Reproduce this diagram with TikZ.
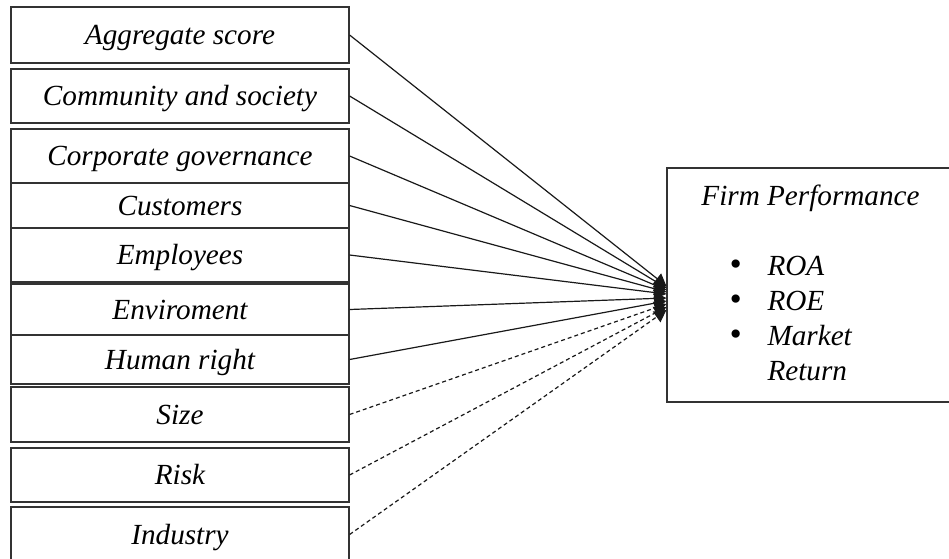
\documentclass[tikz,border=0pt]{standalone}
\usepackage{fontspec}
\setmainfont{Liberation Serif}
\usetikzlibrary{arrows.meta}

\begin{document}
\begin{tikzpicture}[x=0.5pt, y=-0.5pt, >={Triangle[length=6pt,width=6.5pt]},
    factor/.style={draw=black!80, line width=0.6pt, minimum width=169pt, inner sep=0pt,
        text height=11pt, text depth=1.5pt, font=\fontsize{14.6}{17}\selectfont\itshape},
    link/.style={->, draw=black!90, line width=0.6pt},
    control/.style={link, dashed, dash pattern=on 2pt off 1.5pt}]
    \useasboundingbox (0,0) rectangle (949,558);
    % explanatory variables
    \node[factor, minimum height=28pt] (agg) at (180,35) {Aggregate score};
    \node[factor, minimum height=27pt] (com) at (180,96) {Community and society};
    \node[factor, minimum height=27pt] (cor) at (180,156) {Corporate governance};
    \node[factor, minimum height=22.5pt] (cus) at (180,205.5) {Customers};
    \node[factor, minimum height=27pt] (emp) at (180,255) {Employees};
    \node[factor, minimum height=25.5pt] (env) at (180,309.5) {Enviroment};
    \node[factor, minimum height=24.5pt] (hum) at (180,359.5) {Human right};
    \node[factor, minimum height=27.5pt] (size) at (180,414.5) {Size};
    \node[factor, minimum height=27pt] (risk) at (180,475) {Risk};
    \node[factor, minimum height=27.5pt] (ind) at (180,534.5) {Industry};
    % dependent variable
    \node[draw=black!80, line width=0.6pt, minimum width=146.5pt, minimum height=117pt] (perf) at (813.5,285) {};
    \node[font=\fontsize{14.6}{17}\selectfont\itshape] (title) at (810.5,198) {Firm Performance};
    \node[anchor=north west, inner sep=0pt, font=\fontsize{14.6}{17.5}\selectfont\itshape] (kpi) at (729,251)
        {\begin{tabular}{@{}c@{\hspace{13pt}}l@{}}
            {\LARGE\textbullet} & ROA\\
            {\LARGE\textbullet} & ROE\\
            {\LARGE\textbullet} & Market\\
                        & Return
        \end{tabular}};
    % paths
    \draw[link] (agg.east) -- ([yshift=-0.5pt]perf.west);
    \draw[link] (com.east) -- ([yshift=-1.5pt]perf.west);
    \draw[link] (cor.east) -- ([yshift=-2.5pt]perf.west);
    \draw[link] (cus.east) -- ([yshift=-3.5pt]perf.west);
    \draw[link] (emp.east) -- ([yshift=-4.5pt]perf.west);
    \draw[link] (env.east) -- ([yshift=-6.5pt]perf.west);
    \draw[link] (hum.east) -- ([yshift=-8pt]perf.west);
    \draw[control] (size.east) -- ([yshift=-9.5pt]perf.west);
    \draw[control] (risk.east) -- ([yshift=-11pt]perf.west);
    \draw[control] (ind.east) -- ([yshift=-12.5pt]perf.west);
\end{tikzpicture}
\end{document}
